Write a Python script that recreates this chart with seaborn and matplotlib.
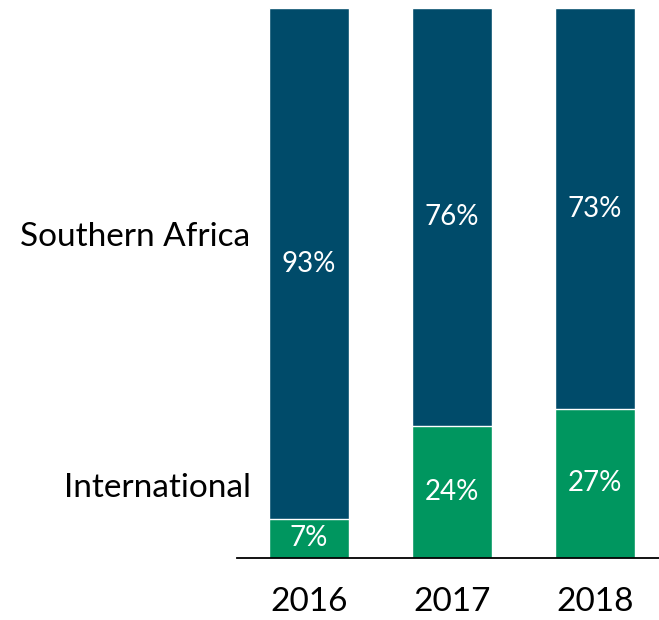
import numpy as np
import pandas as pd
import matplotlib.pyplot as plt
import seaborn as sns

# dados do grafico
anos = ['2016', '2017', '2018']
internacional = [7, 24, 27]
africa_austral = [93, 76, 73]
series = ['Southern Africa', 'International']

cor_azul = '#004B6A'
cor_verde = '#00965F'

sns.set_style('white')
plt.rcParams['font.family'] = ['Lato', 'DejaVu Sans']
plt.rcParams['text.color'] = 'black'
plt.rcParams['xtick.color'] = 'black'

df = pd.DataFrame({'ano': anos, 'International': internacional,
                   'Southern Africa': africa_austral})
df['total'] = df['International'] + df['Southern Africa']

fig = plt.figure(figsize=(6.59, 6.20), dpi=100)
ax = fig.add_axes([0.36, 0.1008, 0.64, 0.8862])

# barra total (azul) e por cima a parte verde
sns.barplot(data=df, x='ano', y='total', color=cor_azul, width=0.56,
            saturation=1, ax=ax)
sns.barplot(data=df, x='ano', y='International', color=cor_verde, width=0.56,
            saturation=1, ax=ax)

for i in range(len(anos)):
    v = internacional[i]
    s = africa_austral[i]
    ax.text(i, v / 2, f'{v}%', ha='center', va='center', color='white', fontsize=20)
    ax.text(i, v + s / 2, f'{s}%', ha='center', va='center', color='white', fontsize=20)

# rotulos das series a esquerda
ax.text(-0.41, 58.3, series[0], ha='right', va='center', fontsize=24, clip_on=False)
ax.text(-0.41, 12.6, series[1], ha='right', va='center', fontsize=24, clip_on=False)

ax.set_xlim(-0.503, 2.448)
ax.set_ylim(0, 100)
ax.set_xlabel('')
ax.set_ylabel('')
ax.set_yticks([])
ax.tick_params(axis='x', length=0, labelsize=24, labelcolor='black', pad=21)
for lado in ['top', 'right', 'left']:
    ax.spines[lado].set_visible(False)
ax.spines['bottom'].set_color('black')
ax.spines['bottom'].set_linewidth(1.3)

fig.savefig('out.png', dpi=100)
